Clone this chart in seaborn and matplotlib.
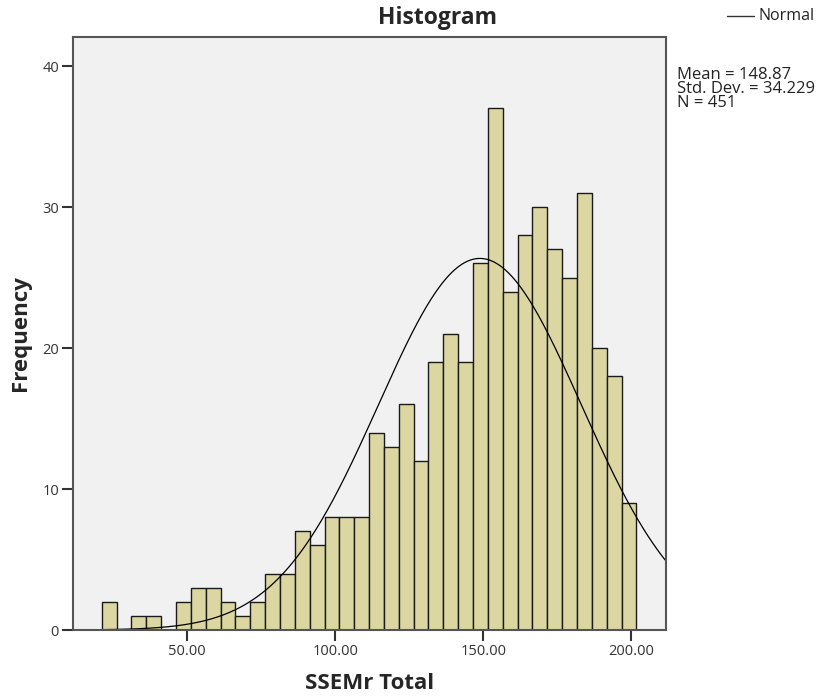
import numpy as np
import pandas as pd
import matplotlib
matplotlib.use("Agg")
import matplotlib.pyplot as plt
import seaborn as sns

# Frequency table for SSEMr Total (36 equal-width bins)
bin_start = 21.2
bin_end = 201.7
counts = [2, 0, 1, 1, 0, 2, 3, 3, 2, 1, 2, 4, 4, 7, 6, 8, 8, 8,
          14, 13, 16, 12, 19, 21, 19, 26, 37, 24, 28, 30, 27, 25, 31, 20, 18, 9]
mean_val = 148.87
std_val = 34.229
n_total = 451
x_ticks = [50, 100, 150, 200]
y_ticks = [0, 10, 20, 30, 40]

edges = np.linspace(bin_start, bin_end, len(counts) + 1)
centers = (edges[:-1] + edges[1:]) / 2
width = edges[1] - edges[0]
df = pd.DataFrame({"score": centers, "freq": counts})

sns.set_style("white")
plt.rcParams["font.family"] = ["Open Sans", "DejaVu Sans"]

fig = plt.figure(figsize=(8.2, 6.97), dpi=100)
ax = fig.add_axes([73 / 820, 67 / 697, 593 / 820, 593 / 697])
ax.set_facecolor("#f1f1f1")

sns.histplot(data=df, x="score", weights="freq", bins=edges.tolist(), ax=ax,
             color="#dcd6a3", edgecolor="#1a1a1a", linewidth=1.0, alpha=1.0)

# Normal curve scaled to counts
xmin, xmax = 11.5, 211.7
xs = np.linspace(xmin, xmax, 400)
ys = n_total * width * np.exp(-0.5 * ((xs - mean_val) / std_val) ** 2) / (std_val * np.sqrt(2 * np.pi))
sns.lineplot(x=xs, y=ys, ax=ax, color="black", linewidth=0.9)

ax.set_xlim(xmin, xmax)
ax.set_ylim(0, 42.06)
ax.set_xticks(x_ticks)
ax.set_xticklabels([f"{v:.2f}" for v in x_ticks])
ax.set_yticks(y_ticks)
ax.tick_params(axis="both", direction="out", length=8, width=1.5, color="#333333",
               labelsize=10.5, labelcolor="#333333", pad=2, bottom=True, left=True)
for s in ax.spines.values():
    s.set_color("#555555")
    s.set_linewidth(1.5)

ax.set_xlabel("SSEMr Total", fontsize=16, fontweight="bold", labelpad=10)
ax.set_ylabel("Frequency", fontsize=16, fontweight="bold", labelpad=8)

fig.text(438 / 820, 1 - 18 / 697, "Histogram", ha="center", va="center",
         fontsize=16.5, fontweight="bold")

# Legend entry for the normal curve
fig.add_artist(plt.Line2D([727 / 820, 754 / 820], [1 - 16 / 697, 1 - 16 / 697],
                          color="#333333", linewidth=1.0))
fig.text(759 / 820, 1 - 16 / 697, "Normal", ha="left", va="center",
         fontsize=11.5, color="#222222")

fig.text(677 / 820, 1 - 67 / 697,
         f"Mean = {mean_val:.2f}\nStd. Dev. = {std_val:.3f}\nN = {n_total}",
         ha="left", va="top", fontsize=12, color="#222222", linespacing=0.82)

fig.savefig("out.png", dpi=100)
